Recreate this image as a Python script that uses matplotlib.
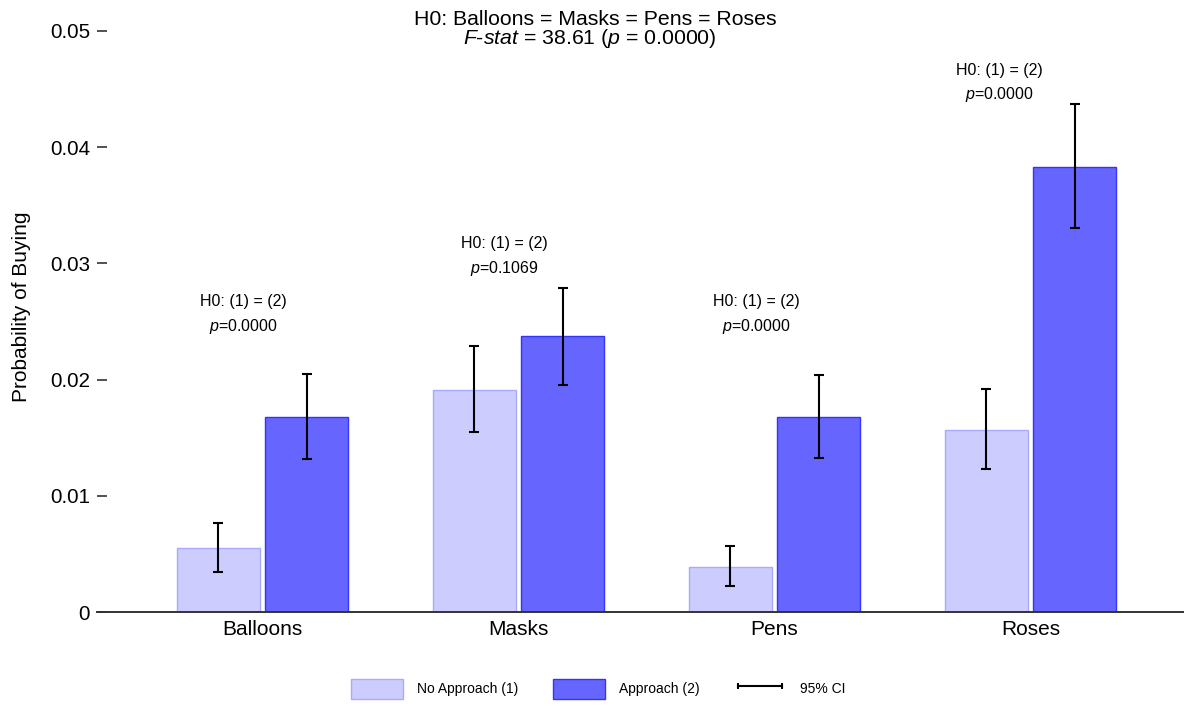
import numpy as np
import matplotlib
matplotlib.use("Agg")
import matplotlib.pyplot as plt
from matplotlib.patches import Patch
from matplotlib.lines import Line2D

plt.rcParams['font.family'] = ['Liberation Sans', 'DejaVu Sans']
plt.rcParams['mathtext.fontset'] = 'custom'
plt.rcParams['mathtext.rm'] = 'Liberation Sans'
plt.rcParams['mathtext.it'] = 'Liberation Sans:italic'

# data
categories = ["Balloons", "Masks", "Pens", "Roses"]
no_approach = [0.00551, 0.01910, 0.00387, 0.01566]
no_approach_lo = [0.00344, 0.01549, 0.00224, 0.01231]
no_approach_hi = [0.00766, 0.02289, 0.00568, 0.01919]
approach = [0.01678, 0.02375, 0.01678, 0.03830]
approach_lo = [0.01317, 0.01954, 0.01325, 0.03305]
approach_hi = [0.02048, 0.02788, 0.02040, 0.04372]
pair_pvalues = ["0.0000", "0.1069", "0.0000", "0.0000"]
f_stat = "38.61"
f_pvalue = "0.0000"
yticks = [0, 0.01, 0.02, 0.03, 0.04, 0.05]
ytick_labels = ["0", "0.01", "0.02", "0.03", "0.04", "0.05"]

# where the per-group test labels sit
note_dx = [-0.074, -0.055, -0.072, -0.123]
note_y = [0.02668, 0.03167, 0.02668, 0.04664]

light = "#ccccff"
light_edge = "#a9a9ff"
dark = "#6666ff"
dark_edge = "#3333ff"

fig = plt.figure(figsize=(11.88, 7.06), dpi=100)
ax = fig.add_axes([97 / 1188, 1 - 612 / 706, 1086 / 1188, 581 / 706])

x = np.arange(len(categories))
w = 0.325
off = 0.172

err1 = [np.array(no_approach) - np.array(no_approach_lo),
        np.array(no_approach_hi) - np.array(no_approach)]
err2 = [np.array(approach) - np.array(approach_lo),
        np.array(approach_hi) - np.array(approach)]

ax.bar(x - off, no_approach, w, color=light, edgecolor=light_edge, linewidth=1.0, zorder=2)
ax.bar(x + off, approach, w, color=dark, edgecolor=dark_edge, linewidth=1.0, zorder=2)
ax.errorbar(x - off, no_approach, yerr=err1, fmt='none', ecolor='black',
            elinewidth=1.5, capsize=3.6, capthick=1.5, zorder=3)
ax.errorbar(x + off, approach, yerr=err2, fmt='none', ecolor='black',
            elinewidth=1.5, capsize=3.6, capthick=1.5, zorder=3)

for i in range(len(categories)):
    ax.text(x[i] + note_dx[i], note_y[i], "H0: (1) = (2)", ha='center', va='center', fontsize=11.5)
    ax.annotate("$p$=" + pair_pvalues[i], (x[i] + note_dx[i], note_y[i]),
                xytext=(0, -17.3), textcoords='offset points',
                ha='center', va='center', fontsize=11.5)

ax.set_xlim(-0.6465, 3.5957)
ax.set_ylim(0, 0.05)
ax.set_xticks(x)
ax.set_xticklabels(categories, fontsize=15)
ax.set_yticks(yticks)
ax.set_yticklabels(ytick_labels, fontsize=14.8)
ax.tick_params(axis='x', length=0, pad=6)
ax.tick_params(axis='y', direction='in', length=7.2, width=1.1, pad=5, color='#222222')
for s in ['left', 'right', 'top']:
    ax.spines[s].set_visible(False)
ax.spines['bottom'].set_linewidth(1.4)
ax.spines['bottom'].set_color('#333333')

fig.text(22 / 1188, 1 - 307 / 706, "Probability of Buying", rotation=90,
         ha='center', va='center', fontsize=15)

fig.text(595 / 1188, 1 - 25 / 706, "H0: Balloons = Masks = Pens = Roses",
         ha='center', va='baseline', fontsize=15.3)
fig.text(590 / 1188, 1 - 44 / 706,
         "$F$-$stat$ = " + f_stat + " ($p$ = " + f_pvalue + ")",
         ha='center', va='baseline', fontsize=15.3)

handles = [Patch(facecolor=light, edgecolor=light_edge, linewidth=1.0),
           Patch(facecolor=dark, edgecolor=dark_edge, linewidth=1.0),
           Line2D([0], [0], color='black', lw=1.5, marker='|', markersize=5, mew=1.5)]
fig.legend(handles, ["No Approach (1)", "Approach (2)", "95% CI"],
           loc='center', bbox_to_anchor=(0.5 + 4 / 1188, 1 - 689 / 706), ncol=3, frameon=False,
           fontsize=10, handlelength=3.75, handleheight=1.85, handletextpad=1.0,
           columnspacing=2.5, numpoints=2)

fig.savefig("out.png", dpi=100)
